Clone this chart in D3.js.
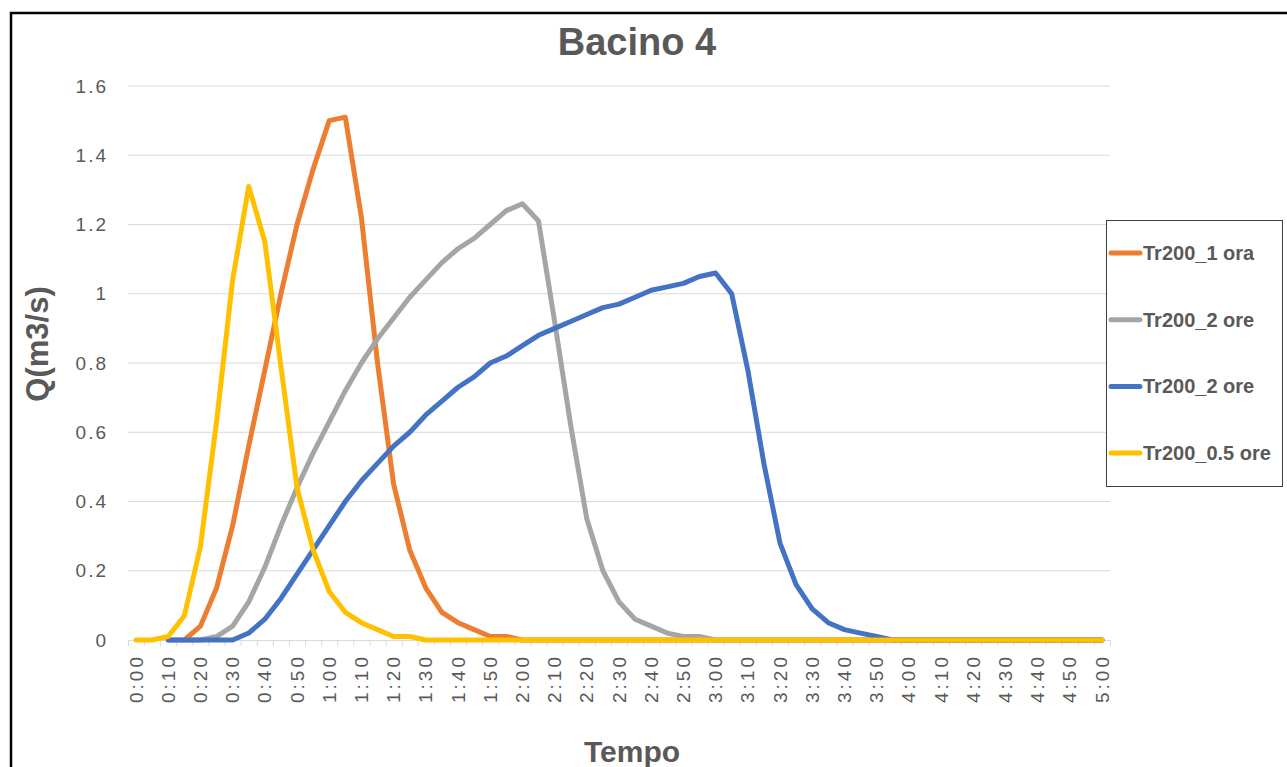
<!DOCTYPE html>
<html>
<head>
<meta charset="utf-8">
<script src="https://cdn.jsdelivr.net/npm/d3@7"></script>
<style>
  body { margin: 0; background: #fff; }
  text { font-family: "Liberation Sans", Arial, sans-serif; }
</style>
</head>
<body>
<div id="chart"></div>
<script>
const width = 1287;
const height = 767;

// categories, one every 5 minutes
const times = ["0:00","0:05","0:10","0:15","0:20","0:25","0:30","0:35","0:40","0:45",
  "0:50","0:55","1:00","1:05","1:10","1:15","1:20","1:25","1:30","1:35",
  "1:40","1:45","1:50","1:55","2:00","2:05","2:10","2:15","2:20","2:25",
  "2:30","2:35","2:40","2:45","2:50","2:55","3:00","3:05","3:10","3:15",
  "3:20","3:25","3:30","3:35","3:40","3:45","3:50","3:55","4:00","4:05",
  "4:10","4:15","4:20","4:25","4:30","4:35","4:40","4:45","4:50","4:55","5:00"];

const yTicks = [0, 0.2, 0.4, 0.6, 0.8, 1, 1.2, 1.4, 1.6];

const seriesNames = ["Tr200_1 ora", "Tr200_2 ore", "Tr200_2 ore", "Tr200_0.5 ore"];
const seriesColors = ["#ED7D31", "#A5A5A5", "#4472C4", "#FFC000"];

const tr1ora = [null,null,null,0,0.04,0.15,0.33,0.56,0.78,1.0,
  1.2,1.36,1.5,1.51,1.22,0.8,0.45,0.26,0.15,0.08,
  0.05,0.03,0.01,0.01,0,0,0,0,0,0,
  0,0,0,0,0,0,0,0,0,0,
  0,0,0,0,0,0,0,0,0,0,
  0,0,0,0,0,0,0,0,0,0,0];

const tr2ore_a = [null,null,0,0,0,0.01,0.04,0.11,0.21,0.33,
  0.44,0.54,0.63,0.72,0.8,0.87,0.93,0.99,1.04,1.09,
  1.13,1.16,1.2,1.24,1.26,1.21,0.92,0.62,0.35,0.2,
  0.11,0.06,0.04,0.02,0.01,0.01,0,0,0,0,
  0,0,0,0,0,0,0,0,0,0,
  0,0,0,0,0,0,0,0,0,0,0];

const tr2ore_b = [null,null,0,0,0,0,0,0.02,0.06,0.12,
  0.19,0.26,0.33,0.4,0.46,0.51,0.56,0.6,0.65,0.69,
  0.73,0.76,0.8,0.82,0.85,0.88,0.9,0.92,0.94,0.96,
  0.97,0.99,1.01,1.02,1.03,1.05,1.06,1.0,0.78,0.51,
  0.28,0.16,0.09,0.05,0.03,0.02,0.01,0,0,0,
  0,0,0,0,0,0,0,0,0,0,0];

const tr05ore = [0,0,0.01,0.07,0.27,0.63,1.04,1.31,1.15,0.79,
  0.44,0.26,0.14,0.08,0.05,0.03,0.01,0.01,0,0,
  0,0,0,0,0,0,0,0,0,0,
  0,0,0,0,0,0,0,0,0,0,
  0,0,0,0,0,0,0,0,0,0,
  0,0,0,0,0,0,0,0,0,0,0];

const allSeries = [tr1ora, tr2ore_a, tr2ore_b, tr05ore];

const plot = { left: 128, right: 1110, top: 86, bottom: 640 };
const textColor = "#595959";

const svg = d3.select("#chart").append("svg")
  .attr("width", width)
  .attr("height", height);

svg.append("rect").attr("width", width).attr("height", height).attr("fill", "#fff");

// outer chart border (runs off the right/bottom of the picture)
svg.append("rect")
  .attr("x", 11).attr("y", 13)
  .attr("width", 1400).attr("height", 900)
  .attr("fill", "none")
  .attr("stroke", "#000")
  .attr("stroke-width", 2.5);

const xScale = d3.scaleBand()
  .domain(times)
  .range([plot.left, plot.right])
  .padding(0);

const yScale = d3.scaleLinear()
  .domain([0, 1.6])
  .range([plot.bottom, plot.top]);

// gridlines
svg.append("g")
  .selectAll("line")
  .data(yTicks.filter(d => d > 0))
  .join("line")
  .attr("x1", plot.left).attr("x2", plot.right)
  .attr("y1", d => yScale(d)).attr("y2", d => yScale(d))
  .attr("stroke", "#D9D9D9")
  .attr("stroke-width", 1);

// y axis labels
const yAxis = d3.axisLeft(yScale)
  .tickValues(yTicks)
  .tickFormat(d => String(+d.toFixed(1)))
  .tickSize(0)
  .tickPadding(22);

const gy = svg.append("g")
  .attr("transform", `translate(${plot.left},0)`)
  .call(yAxis);
gy.select(".domain").remove();
gy.selectAll("text")
  .attr("fill", textColor)
  .style("font-size", "19px")
  .style("letter-spacing", "2px")
  .attr("dx", "2");

// x axis line + tick marks at category boundaries
svg.append("line")
  .attr("x1", plot.left).attr("x2", plot.right)
  .attr("y1", plot.bottom + 0.5).attr("y2", plot.bottom + 0.5)
  .attr("stroke", "#D9D9D9");

svg.append("g")
  .selectAll("line")
  .data(times.map(t => xScale(t)).concat([plot.right]))
  .join("line")
  .attr("x1", d => d + 0.5).attr("x2", d => d + 0.5)
  .attr("y1", plot.bottom).attr("y2", plot.bottom + 6)
  .attr("stroke", "#D9D9D9");

// x labels every 10 minutes
const xAxis = d3.axisBottom(xScale)
  .tickValues(times.filter((d, i) => i % 2 === 0))
  .tickSize(0)
  .tickPadding(0);

const gx = svg.append("g")
  .attr("transform", `translate(0,${plot.bottom})`)
  .call(xAxis);
gx.select(".domain").remove();
gx.selectAll("text")
  .attr("fill", textColor)
  .style("font-size", "19px")
  .style("letter-spacing", "3px")
  .attr("text-anchor", "end")
  .attr("transform", "rotate(-90)")
  .attr("x", -14)
  .attr("y", 0)
  .attr("dy", "0.35em");

// lines
const line = d3.line()
  .defined(d => d != null)
  .x((d, i) => xScale(times[i]) + xScale.bandwidth() / 2)
  .y(d => yScale(d));

svg.append("g")
  .selectAll("path")
  .data(allSeries)
  .join("path")
  .attr("d", d => line(d))
  .attr("fill", "none")
  .attr("stroke", (d, i) => seriesColors[i])
  .attr("stroke-width", 5)
  .attr("stroke-linejoin", "round")
  .attr("stroke-linecap", "round");

// titles
svg.append("text")
  .attr("x", 637).attr("y", 55)
  .attr("text-anchor", "middle")
  .attr("fill", textColor)
  .style("font-size", "38px")
  .style("font-weight", 700)
  .text("Bacino 4");

svg.append("text")
  .attr("transform", "translate(48,344) rotate(-90)")
  .attr("text-anchor", "middle")
  .attr("fill", textColor)
  .style("font-size", "31px")
  .style("font-weight", 700)
  .text("Q(m3/s)");

svg.append("text")
  .attr("x", 632).attr("y", 762)
  .attr("text-anchor", "middle")
  .attr("fill", textColor)
  .style("font-size", "30px")
  .style("font-weight", 700)
  .text("Tempo");

// legend
const legend = svg.append("g");
legend.append("rect")
  .attr("x", 1106.5).attr("y", 220.5)
  .attr("width", 176).attr("height", 266)
  .attr("fill", "#fff")
  .attr("stroke", "#404040");

const items = legend.selectAll("g")
  .data(seriesNames)
  .join("g")
  .attr("transform", (d, i) => `translate(0,${253 + i * 66.7})`);

items.append("line")
  .attr("x1", 1111).attr("x2", 1140)
  .attr("y1", 0).attr("y2", 0)
  .attr("stroke", (d, i) => seriesColors[i])
  .attr("stroke-width", 5)
  .attr("stroke-linecap", "round");

items.append("text")
  .attr("x", 1143).attr("y", 7)
  .attr("fill", textColor)
  .style("font-size", "20px")
  .style("font-weight", 700)
  .text(d => d);
</script>
</body>
</html>
